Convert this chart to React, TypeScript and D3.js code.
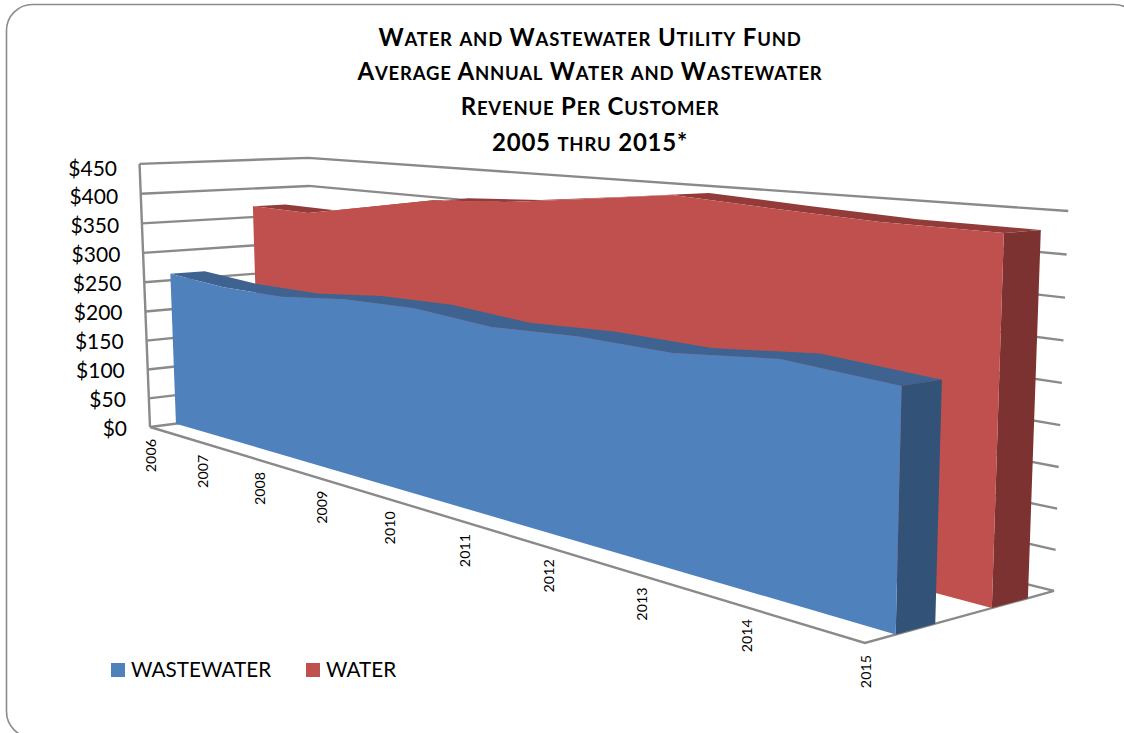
import React from "react";
import * as d3 from "d3";

const years = ["2006", "2007", "2008", "2009", "2010", "2011", "2012", "2013", "2014", "2015"];
const wastewater = [261, 254, 255, 268, 272, 264, 271, 270, 284, 276];
const water = [369, 368, 388, 409, 416, 430, 445, 438, 432, 431];
const valueTicks = [0, 50, 100, 150, 200, 250, 300, 350, 400, 450];
const titleLines = [
  "Water and Wastewater Utility Fund",
  "Average Annual Water and Wastewater",
  "Revenue Per Customer",
  "2005 thru 2015*",
];
const legendItems = ["WASTEWATER", "WATER"];

const colors = {
  wastewater: { front: "#4f81bd", top: "#3e6390", side: "#325277" },
  water: { front: "#c0504d", top: "#923b39", side: "#7b3230" },
};
const GRID = "#8a8a8a";
const FONT = "Lato, Carlito, Calibri, sans-serif";

// Camera: homogeneous projection of the unit box (X: category, Y: value, Z: depth)
const O = [150, 427];
const VX = [393.2, -23.2];
const VY = [-13.5, -266.7];
const VZ = [184, 3.9];
const WX = -0.372;
const WY = -0.0218;
const WZ = 0.0619;

function project(X: number, Y: number, Z: number): [number, number] {
  const w = 1 + WX * X + WY * Y + WZ * Z;
  return [
    (O[0] + VX[0] * X + VY[0] * Y + VZ[0] * Z) / w,
    (O[1] + VX[1] * X + VY[1] * Y + VZ[1] * Z) / w,
  ];
}

const xScale = d3.scalePoint<string>().domain(years).range([0, 1]);
const yScale = d3.scaleLinear().domain([0, 450]).range([0, 1]);
const labelY = d3.scaleLinear().domain([0, 450]).range([427, 167]);
const labelRight = d3.scaleLinear().domain([0, 450]).range([127, 117]);

const polyline = d3.line<[number, number]>();
const closed = (pts: [number, number][]) => (polyline(pts) as string) + "Z";

// Small-caps runs: lowercase letters are set as smaller capitals.
function smallCapsRuns(t: string) {
  const runs: { text: string; small: boolean }[] = [];
  for (const ch of t) {
    const small = ch >= "a" && ch <= "z";
    const prev = runs[runs.length - 1];
    if (prev && prev.small === small) prev.text += small ? ch.toUpperCase() : ch;
    else runs.push({ text: small ? ch.toUpperCase() : ch, small });
  }
  return runs;
}

function Ribbon({ values, z0, z1, c }: { values: number[]; z0: number; z1: number; c: { front: string; top: string; side: string } }) {
  const X = years.map((y) => xScale(y) as number);
  const Y = values.map((v) => yScale(v));
  const last = X.length - 1;
  const front: [number, number][] = [
    project(X[0], 0, z0),
    ...X.map((x, i) => project(x, Y[i], z0)),
    project(X[last], 0, z0),
  ];
  const side: [number, number][] = [
    project(X[last], 0, z0),
    project(X[last], Y[last], z0),
    project(X[last], Y[last], z1),
    project(X[last], 0, z1),
  ];
  const top: [number, number][] = [
    ...X.map((x, i) => project(x, Y[i], z0)),
    ...X.map((x, i) => project(x, Y[i], z1)).reverse(),
  ];
  return (
    <g>
      <path d={closed(top)} fill={c.top} />
      <path d={closed(side)} fill={c.side} />
      <path d={closed(front)} fill={c.front} />
    </g>
  );
}

export default function App() {
  const gridPaths = valueTicks.map((v) => {
    const Y = yScale(v);
    return polyline([project(0, Y, 0), project(0, Y, 1), project(1, Y, 1)]) as string;
  });
  const floor = polyline([project(0, 0, 0), project(1, 0, 0), project(1, 0, 1)]) as string;
  const leftEdge = polyline([project(0, 0, 0), project(0, 1, 0)]) as string;

  return (
    <svg
      width={1124}
      height={733}
      style={{ position: "fixed", left: 0, top: 0, background: "#fff" }}
      fontFamily={FONT}
    >
      <rect x={6.5} y={4.5} width={1133.5} height={733} rx={26} ry={26} fill="#fff" stroke="#8c8c8c" strokeWidth={1.6} />

      {titleLines.map((t, i) => (
        <text
          key={t}
          x={590}
          y={[46, 80, 115, 151][i]}
          textAnchor="middle"
          fontWeight={700}
          fill="#000"
          letterSpacing={0.8}
        >
          {smallCapsRuns(t).map((r, j) => (
            <tspan key={j} fontSize={r.small ? 18.5 : 24}>{r.text}</tspan>
          ))}
        </text>
      ))}

      <g fill="none" stroke={GRID} strokeWidth={2.4}>
        {gridPaths.map((d, i) => (
          <path key={i} d={d} />
        ))}
        <path d={leftEdge} />
        <path d={floor} />
      </g>

      <Ribbon values={water} z0={0.65} z1={0.85} c={colors.water} />
      <Ribbon values={wastewater} z0={0.15} z1={0.35} c={colors.wastewater} />

      {valueTicks.map((v) => (
        <text key={v} x={labelRight(v)} y={labelY(v)} textAnchor="end" dominantBaseline="central" fontSize={21} fill="#000">
          {"$" + v}
        </text>
      ))}

      {years.map((y) => {
        const [px, py] = project(xScale(y) as number, 0, 0);
        return (
          <text
            key={y}
            transform={`translate(${px + 6},${py + 12}) rotate(-90)`}
            textAnchor="end"
            fontSize={14.3}
            fill="#000"
          >
            {y}
          </text>
        );
      })}

      <rect x={111} y={663} width={14} height={14} fill={colors.wastewater.front} />
      <text x={131} y={677} fontSize={20.7} fill="#000">{legendItems[0]}</text>
      <rect x={306} y={663} width={14} height={14} fill={colors.water.front} />
      <text x={326} y={677} fontSize={20.7} fill="#000">{legendItems[1]}</text>
    </svg>
  );
}
